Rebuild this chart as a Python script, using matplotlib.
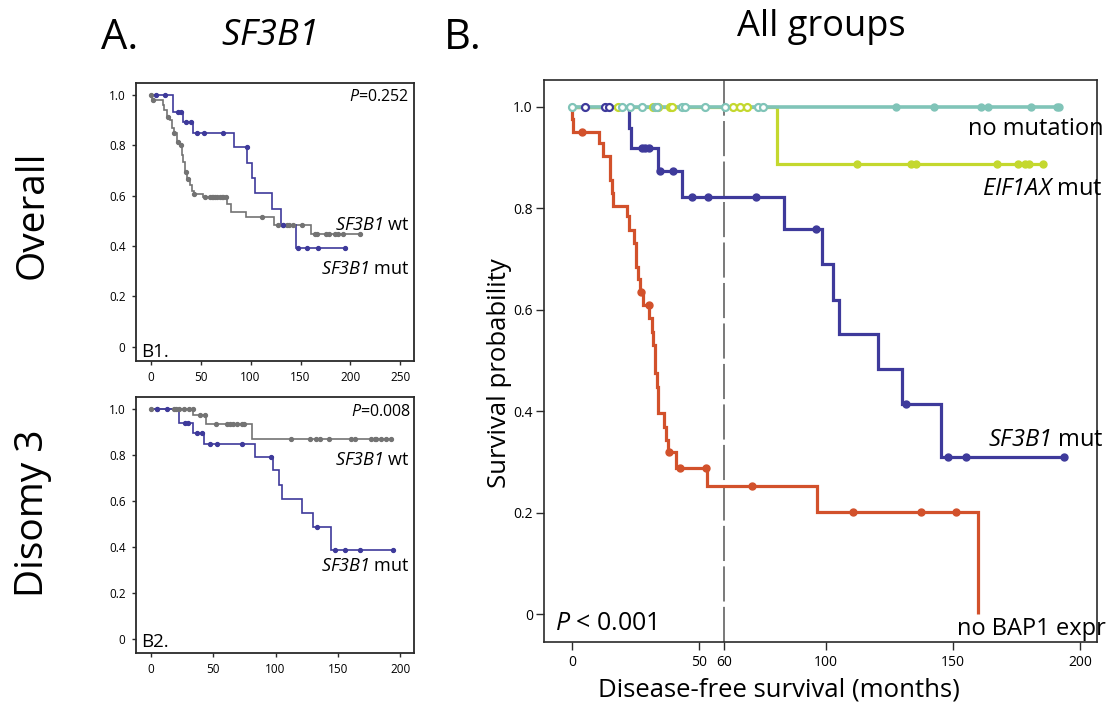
import numpy as np
import matplotlib
matplotlib.use('Agg')
import matplotlib.pyplot as plt

plt.rcParams['font.family'] = ['Open Sans', 'DejaVu Sans']
plt.rcParams['mathtext.fontset'] = 'custom'
plt.rcParams['mathtext.rm'] = 'Open Sans:italic'
plt.rcParams['mathtext.it'] = 'Open Sans:italic'
plt.rcParams['mathtext.default'] = 'it'

# ---------------- data: panel B (all groups) ----------------
red_t = [0, 0.2, 0.6, 10.7, 12.1, 15.0, 15.6, 16.0, 21.8, 22.6, 24.6, 25.3, 26.1, 26.8,
         28.1, 30.4, 31.4, 32.0, 32.7, 33.3, 34.0, 36.2, 37.0, 37.9, 40.9, 53.0, 96.3, 159.7]
red_s = [1.0, 0.976, 0.951, 0.928, 0.903, 0.856, 0.830, 0.805, 0.784, 0.757, 0.732, 0.685, 0.660, 0.636,
         0.609, 0.583, 0.557, 0.531, 0.475, 0.448, 0.396, 0.369, 0.343, 0.319, 0.289, 0.253, 0.202, 0.0]
red_c = [3.8, 27.2, 30.2, 38.2, 42.5, 52.8, 71.0, 110.5, 137.3, 151.2]

blue_t = [0, 22.6, 23.2, 33.7, 43.2, 83.3, 98.3, 102.9, 105.2, 120.6, 130.0, 145.1, 193.7]
blue_s = [1.0, 0.958, 0.918, 0.874, 0.822, 0.759, 0.690, 0.619, 0.552, 0.483, 0.414, 0.310, 0.310]
blue_c = [5.1, 13.0, 14.7, 27.4, 28.7, 30.4, 34.8, 39.6, 47.4, 53.7, 72.4, 96.1, 131.5, 147.9, 155.1, 193.7]

yel_t = [0, 80.6, 185.6]
yel_s = [1.0, 0.888, 0.888]
yel_c = [18.2, 31.8, 34.0, 38.6, 39.5, 63.3, 66.1, 69.0, 112.3, 133.5, 135.3, 167.5, 175.7, 178.3, 180.0, 185.6]

teal_t = [0, 192.0]
teal_s = [1.0, 1.0]
teal_c = [0.0, 19.6, 22.8, 27.4, 32.7, 33.6, 43.2, 44.5, 52.4, 60.2, 73.4, 75.1,
          127.6, 142.5, 161.0, 163.9, 180.6, 190.8, 191.9]

# ---------------- data: B1 (overall, SF3B1) ----------------
b1_wt_t = [0, 1.0, 12.0, 13.5, 16.0, 19.3, 21.0, 23.3, 26.0, 29.3, 31.0, 32.6, 34.3, 36.6,
           39.3, 41.0, 43.6, 52.6, 76.5, 80.0, 95.3, 123.6, 160.3, 210.0]
b1_wt_s = [1.0, 0.98, 0.96, 0.94, 0.913, 0.90, 0.867, 0.847, 0.813, 0.80, 0.76, 0.733, 0.693, 0.667,
           0.64, 0.62, 0.607, 0.593, 0.567, 0.536, 0.513, 0.484, 0.447, 0.447]
b1_wt_c = [0, 2, 17.6, 23.3, 27.6, 30.0, 35.3, 37.6, 43.6, 54.3, 59.3, 61.0, 62.6, 64.3, 66.6,
           69.3, 71.0, 72.6, 75.3, 111.0, 127.6, 132.6, 136.0, 138.6, 142.6, 151.0,
           164.3, 166.6, 176.0, 178.6, 184.3, 187.6, 192.6, 210.0]

b1_mut_t = [0, 22.6, 32.6, 42.6, 83.3, 96.8, 101.0, 104.3, 121.0, 130.3, 145.0, 194.3]
b1_mut_s = [1.0, 0.933, 0.893, 0.849, 0.791, 0.729, 0.671, 0.609, 0.547, 0.484, 0.390, 0.390]
b1_mut_c = [5.3, 14.3, 27.6, 30.0, 35.3, 40.0, 46.6, 53.3, 72.0, 96.0, 132.6, 147.6, 156.0, 167.6, 194.3]

# ---------------- data: B2 (disomy 3, SF3B1) ----------------
b2_wt_t = [0, 34.1, 44.2, 80.8, 192.8]
b2_wt_s = [1.0, 0.971, 0.932, 0.867, 0.867]
b2_wt_c = [0, 4.8, 18.5, 20.6, 22.5, 26.5, 30.5, 33.5, 39.4, 43.4, 52.2, 60.8, 63.5, 65.6, 68.8,
           72.8, 74.6, 112.0, 127.4, 132.2, 135.4, 142.9, 160.8, 163.4, 176.8, 179.4, 180.8,
           184.8, 188.2, 192.8]

b2_mut_t = [0, 22.6, 33.6, 42.9, 83.4, 98.1, 102.9, 104.8, 120.8, 130.1, 144.8, 194.1]
b2_mut_s = [1.0, 0.935, 0.894, 0.848, 0.790, 0.732, 0.667, 0.606, 0.544, 0.486, 0.384, 0.384]
b2_mut_c = [4.8, 13.3, 27.4, 30.1, 36.8, 40.8, 47.4, 53.3, 72.8, 96.0, 132.8, 147.4, 155.4, 167.4, 194.1]

yticks = [0, 0.2, 0.4, 0.6, 0.8, 1.0]
ytick_labels = ['0', '0.2', '0.4', '0.6', '0.8', '1.0']
xticks_B = [0, 50, 60, 100, 150, 200]
xticks_B1 = [0, 50, 100, 150, 200, 250]
xticks_B2 = [0, 50, 100, 150, 200]

C_RED = '#D2512B'
C_BLUE = '#3E3A9B'
C_YEL = '#C4D82E'
C_TEAL = '#80C4B8'
C_GRAY = '#737373'

W, H = 1110, 710
fig = plt.figure(figsize=(W / 100, H / 100), dpi=100)


def ax_px(l, t, r, b):
    return fig.add_axes([l / W, 1 - b / H, (r - l) / W, (b - t) / H])


def fx(x):
    return x / W


def fy(y):
    return 1 - y / H


def step_val(t, s, c):
    t = np.asarray(t)
    s = np.asarray(s)
    idx = np.searchsorted(t, c, side='right') - 1
    return s[idx]


def km_line(ax, t, s, color, lw, z):
    ax.step(t, s, where='post', color=color, lw=lw, zorder=z,
            solid_joinstyle='miter', solid_capstyle='butt')


def km_marks(ax, t, s, c, color, ms, z, hollow_top=False):
    c = np.asarray(c, dtype=float)
    cs = step_val(t, s, c)
    if hollow_top:
        h = (cs >= 0.999) & (c < 80)
        ax.plot(c[h], cs[h], 'o', ms=ms, mfc='white', mec=color, mew=1.6, zorder=z, clip_on=False)
        ax.plot(c[~h], cs[~h], 'o', ms=ms, color=color, zorder=z, clip_on=False)
    else:
        ax.plot(c, cs, 'o', ms=ms, color=color, zorder=z, clip_on=False)


def style_axes(ax, lw):
    for sp in ax.spines.values():
        sp.set_linewidth(lw)
        sp.set_color('#2a2a2a')


# ---------------- Panel B ----------------
axB = ax_px(544, 80, 1097, 642)
style_axes(axB, 1.2)
axB.axvline(60, color='#555555', lw=1.1, ls=(0, (23, 3.5)), zorder=1)
km_line(axB, red_t, red_s, C_RED, 2.3, 2)
km_line(axB, blue_t, blue_s, C_BLUE, 2.3, 3)
km_line(axB, yel_t, yel_s, C_YEL, 2.3, 4)
km_line(axB, teal_t, teal_s, C_TEAL, 2.6, 5)
km_marks(axB, red_t, red_s, red_c, C_RED, 5, 6)
km_marks(axB, blue_t, blue_s, blue_c, C_BLUE, 5, 6, hollow_top=True)
km_marks(axB, yel_t, yel_s, yel_c, C_YEL, 5, 7, hollow_top=True)
km_marks(axB, teal_t, teal_s, teal_c, C_TEAL, 5, 8, hollow_top=True)
axB.set_xlim(-11, 206.7)
axB.set_ylim(-0.055, 1.053)
axB.set_xticks(xticks_B)
axB.set_xticklabels([str(v) for v in xticks_B])
axB.set_yticks(yticks)
axB.set_yticklabels(ytick_labels)
axB.tick_params(direction='out', length=6, width=1.0, pad=3.5, labelsize=10, color='#2a2a2a')
axB.tick_params(axis='y', pad=2)

# ---------------- Panel B1 ----------------
ax1 = ax_px(136, 83, 414, 361)
style_axes(ax1, 1.3)
km_line(ax1, b1_wt_t, b1_wt_s, C_GRAY, 1.2, 2)
km_line(ax1, b1_mut_t, b1_mut_s, C_BLUE, 1.2, 3)
km_marks(ax1, b1_wt_t, b1_wt_s, b1_wt_c, C_GRAY, 2.8, 4)
km_marks(ax1, b1_mut_t, b1_mut_s, b1_mut_c, C_BLUE, 2.8, 5)
ax1.set_xlim(-14.7, 263.6)
ax1.set_ylim(-0.057, 1.047)
ax1.set_xticks(xticks_B1)
ax1.set_xticklabels([str(v) for v in xticks_B1])
ax1.set_yticks(yticks)
ax1.set_yticklabels(ytick_labels)
ax1.tick_params(direction='out', length=3, width=1.0, pad=4.5, labelsize=8.5, color='#2a2a2a')

# ---------------- Panel B2 ----------------
ax2 = ax_px(136, 397, 414, 653)
style_axes(ax2, 1.3)
km_line(ax2, b2_wt_t, b2_wt_s, C_GRAY, 1.2, 2)
km_line(ax2, b2_mut_t, b2_mut_s, C_BLUE, 1.2, 3)
km_marks(ax2, b2_wt_t, b2_wt_s, b2_wt_c, C_GRAY, 2.8, 4)
km_marks(ax2, b2_mut_t, b2_mut_s, b2_mut_c, C_BLUE, 2.8, 5)
ax2.set_xlim(-11.8, 210.9)
ax2.set_ylim(-0.062, 1.05)
ax2.set_xticks(xticks_B2)
ax2.set_xticklabels([str(v) for v in xticks_B2])
ax2.set_yticks(yticks)
ax2.set_yticklabels(ytick_labels)
ax2.tick_params(direction='out', length=3, width=1.0, pad=4.5, labelsize=8.5, color='#2a2a2a')

# ---------------- texts ----------------
fig.text(fx(120), fy(38), 'A.', fontsize=30, ha='center', va='center')
fig.text(fx(268), fy(36), r'$SF3B1$', fontsize=26, ha='center', va='center')
fig.text(fx(463), fy(38), 'B.', fontsize=30, ha='center', va='center')
fig.text(fx(821), fy(27), 'All groups', fontsize=26, ha='center', va='center')
fig.text(fx(33), fy(215), 'Overall', fontsize=28, ha='center', va='center', rotation=90)
fig.text(fx(33), fy(513), 'Disomy 3', fontsize=28, ha='center', va='center', rotation=90)

fig.text(fx(500), fy(373), 'Survival probability', fontsize=18.5, ha='center', va='center', rotation=90)
fig.text(fx(779), fy(690), 'Disease-free survival (months)', fontsize=18.5, ha='center', va='center')

# B1 texts
fig.text(fx(409), fy(101), r'$P$=0.252', fontsize=11.5, ha='right', va='baseline')
fig.text(fx(410), fy(230), r'$SF3B1$ wt', fontsize=13, ha='right', va='baseline')
fig.text(fx(410), fy(274), r'$SF3B1$ mut', fontsize=13, ha='right', va='baseline')
fig.text(fx(141), fy(357), 'B1.', fontsize=13.5, ha='left', va='baseline')
# B2 texts
fig.text(fx(411), fy(416), r'$P$=0.008', fontsize=11.5, ha='right', va='baseline')
fig.text(fx(410), fy(465), r'$SF3B1$ wt', fontsize=13, ha='right', va='baseline')
fig.text(fx(410), fy(571), r'$SF3B1$ mut', fontsize=13, ha='right', va='baseline')
fig.text(fx(141), fy(647), 'B2.', fontsize=13.5, ha='left', va='baseline')

# Panel B texts
fig.text(fx(968), fy(135), 'no mutation', fontsize=17, ha='left', va='baseline')
fig.text(fx(982), fy(195), r'$EIF1AX$ mut', fontsize=17, ha='left', va='baseline')
fig.text(fx(988), fy(446), r'$SF3B1$ mut', fontsize=17, ha='left', va='baseline')
fig.text(fx(957), fy(635), 'no BAP1 expr', fontsize=17, ha='left', va='baseline')
fig.text(fx(555), fy(630), r'$P$ < 0.001', fontsize=18, ha='left', va='baseline')

fig.savefig('out.png', dpi=100)
